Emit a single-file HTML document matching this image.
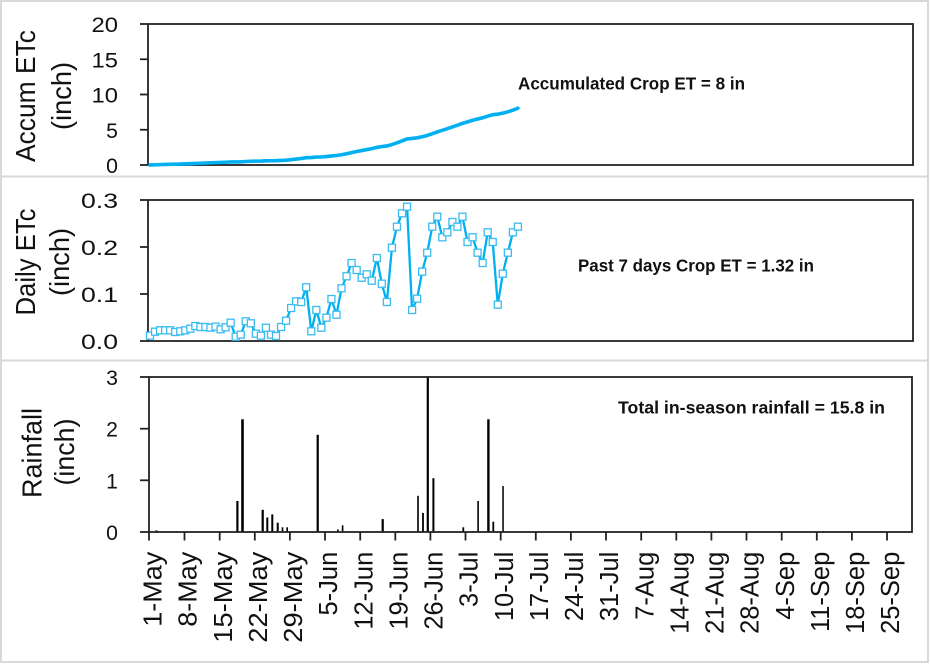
<!DOCTYPE html>
<html><head><meta charset="utf-8"><style>
html,body{margin:0;padding:0;background:#fff;}
svg{display:block;font-family:"Liberation Sans",sans-serif;}
</style></head><body>
<svg width="931" height="666" viewBox="0 0 931 666" xmlns="http://www.w3.org/2000/svg">
<rect width="931" height="666" fill="#fff"/>
<!-- panel borders -->
<g stroke="#D9D9D9" stroke-width="2" fill="none">
<line x1="0" y1="1" x2="929" y2="1"/>
<line x1="1" y1="0" x2="1" y2="663"/>
<line x1="928" y1="0" x2="928" y2="663"/>
<line x1="0" y1="662" x2="929" y2="662"/>
<line x1="0" y1="176.5" x2="929" y2="176.5"/>
<line x1="0" y1="360.5" x2="929" y2="360.5"/>
</g>

<!-- ===== TOP PANEL ===== -->
<g stroke="#222" stroke-width="1.8" fill="none">
<rect x="148" y="24" width="765" height="141"/>
<line x1="140" y1="24" x2="148" y2="24"/>
<line x1="140" y1="59.25" x2="148" y2="59.25"/>
<line x1="140" y1="94.5" x2="148" y2="94.5"/>
<line x1="140" y1="129.75" x2="148" y2="129.75"/>
<line x1="140" y1="165" x2="148" y2="165"/>
</g>
<g font-size="21" fill="#111" text-anchor="end">
<text x="118" y="32" textLength="26.5" lengthAdjust="spacingAndGlyphs">20</text>
<text x="118" y="67.25" textLength="26.5" lengthAdjust="spacingAndGlyphs">15</text>
<text x="118" y="102.5" textLength="26.5" lengthAdjust="spacingAndGlyphs">10</text>
<text x="118" y="137.75" textLength="11.8" lengthAdjust="spacingAndGlyphs">5</text>
<text x="118" y="173" textLength="11.8" lengthAdjust="spacingAndGlyphs">0</text>
</g>
<g font-size="28" fill="#111" text-anchor="middle">
<text transform="translate(35,96) rotate(-90)" textLength="132" lengthAdjust="spacingAndGlyphs">Accum ETc</text>
<text transform="translate(71,96) rotate(-90)" textLength="68" lengthAdjust="spacingAndGlyphs">(inch)</text>
</g>
<polyline fill="none" stroke="#00B0F0" stroke-width="3.6" stroke-linecap="round" stroke-linejoin="round" points="150,164.92 155.04,164.78 160.08,164.62 165.12,164.46 170.16,164.30 175.2,164.16 180.24,164.02 185.28,163.86 190.32,163.67 195.36,163.45 200.4,163.24 205.44,163.03 210.48,162.83 215.52,162.62 220.56,162.44 225.6,162.24 230.64,161.96 235.68,161.90 240.72,161.81 245.76,161.51 250.8,161.24 255.84,161.13 260.88,161.05 265.92,160.85 270.96,160.76 276,160.69 281.04,160.47 286.08,160.17 291.12,159.68 296.16,159.08 301.2,158.50 306.24,157.70 311.28,157.55 316.32,157.08 321.36,156.89 326.4,156.53 331.44,155.91 336.48,155.51 341.52,154.72 346.56,153.75 351.6,152.58 356.64,151.51 361.68,150.56 366.72,149.56 371.76,148.66 376.8,147.41 381.84,146.55 386.88,145.97 391.92,144.56 396.96,142.85 402,140.93 407.04,138.92 412.08,138.45 417.12,137.82 422.16,136.78 427.2,135.45 432.24,133.74 437.28,131.88 442.32,130.33 447.36,128.70 452.4,126.92 457.44,125.20 462.48,123.34 467.52,121.86 472.56,120.31 477.6,118.98 482.64,117.81 487.68,116.19 492.72,114.70 497.76,114.16 502.8,113.15 507.84,111.83 512.88,110.20 517.92,108.2"/>
<text x="518" y="89.5" font-size="17.5" font-weight="bold" fill="#111" textLength="227" lengthAdjust="spacingAndGlyphs">Accumulated Crop ET = 8 in</text>

<!-- ===== MIDDLE PANEL ===== -->
<g stroke="#222" stroke-width="1.8" fill="none">
<rect x="148" y="200" width="765" height="141"/>
<line x1="140" y1="200" x2="148" y2="200"/>
<line x1="140" y1="247" x2="148" y2="247"/>
<line x1="140" y1="294" x2="148" y2="294"/>
<line x1="140" y1="341" x2="148" y2="341"/>
</g>
<g font-size="21" fill="#111" text-anchor="end">
<text x="118" y="208" textLength="37" lengthAdjust="spacingAndGlyphs">0.3</text>
<text x="118" y="255" textLength="37" lengthAdjust="spacingAndGlyphs">0.2</text>
<text x="118" y="302" textLength="37" lengthAdjust="spacingAndGlyphs">0.1</text>
<text x="118" y="349" textLength="37" lengthAdjust="spacingAndGlyphs">0.0</text>
</g>
<g font-size="28" fill="#111" text-anchor="middle">
<text transform="translate(35,262) rotate(-90)" textLength="107" lengthAdjust="spacingAndGlyphs">Daily ETc</text>
<text transform="translate(69,262) rotate(-90)" textLength="68" lengthAdjust="spacingAndGlyphs">(inch)</text>
</g>
<polyline fill="none" stroke="#00B0F0" stroke-width="2.3" stroke-linejoin="round" points="150,335.7 155.04,331.7 160.08,330.3 165.12,330.3 170.16,330.3 175.2,332 180.24,331.3 185.28,330.3 190.32,328.7 195.36,326 200.4,327 205.44,327 210.48,327.7 215.52,326.7 220.56,329.3 225.6,327.3 230.64,322.7 235.68,336.7 240.72,334.7 245.76,321.3 250.8,323.3 255.84,333.7 260.88,335.7 265.92,327.7 270.96,334.7 276,336 281.04,327 286.08,320.7 291.12,308 296.16,301.3 301.2,302 306.24,287.3 311.28,331.3 316.32,310 321.36,327.7 326.4,317.7 331.44,299 336.48,314.7 341.52,288.3 346.56,276.3 351.6,263 356.64,270 361.68,277.7 366.72,274.3 371.76,280.7 376.8,258 381.84,283.7 386.88,302 391.92,247.7 396.96,226.7 402,213.3 407.04,206.7 412.08,310 417.12,298.7 422.16,271.7 427.2,252.7 432.24,226.7 437.28,216.7 442.32,237.3 447.36,232.3 452.4,222 457.44,226.7 462.48,216.7 467.52,242 472.56,237.3 477.6,252.7 482.64,263 487.68,232.3 492.72,242 497.76,304.7 502.8,273.7 507.84,252.7 512.88,232.3 517.92,226.7"/>
<g fill="#fff" stroke="#3ABCF0" stroke-width="1.3">
<rect x="146.5" y="332.2" width="7" height="7"/>
<rect x="151.54" y="328.2" width="7" height="7"/>
<rect x="156.58" y="326.8" width="7" height="7"/>
<rect x="161.62" y="326.8" width="7" height="7"/>
<rect x="166.66" y="326.8" width="7" height="7"/>
<rect x="171.7" y="328.5" width="7" height="7"/>
<rect x="176.74" y="327.8" width="7" height="7"/>
<rect x="181.78" y="326.8" width="7" height="7"/>
<rect x="186.82" y="325.2" width="7" height="7"/>
<rect x="191.86" y="322.5" width="7" height="7"/>
<rect x="196.9" y="323.5" width="7" height="7"/>
<rect x="201.94" y="323.5" width="7" height="7"/>
<rect x="206.98" y="324.2" width="7" height="7"/>
<rect x="212.02" y="323.2" width="7" height="7"/>
<rect x="217.06" y="325.8" width="7" height="7"/>
<rect x="222.1" y="323.8" width="7" height="7"/>
<rect x="227.14" y="319.2" width="7" height="7"/>
<rect x="232.18" y="333.2" width="7" height="7"/>
<rect x="237.22" y="331.2" width="7" height="7"/>
<rect x="242.26" y="317.8" width="7" height="7"/>
<rect x="247.3" y="319.8" width="7" height="7"/>
<rect x="252.34" y="330.2" width="7" height="7"/>
<rect x="257.38" y="332.2" width="7" height="7"/>
<rect x="262.42" y="324.2" width="7" height="7"/>
<rect x="267.46" y="331.2" width="7" height="7"/>
<rect x="272.5" y="332.5" width="7" height="7"/>
<rect x="277.54" y="323.5" width="7" height="7"/>
<rect x="282.58" y="317.2" width="7" height="7"/>
<rect x="287.62" y="304.5" width="7" height="7"/>
<rect x="292.66" y="297.8" width="7" height="7"/>
<rect x="297.7" y="298.5" width="7" height="7"/>
<rect x="302.74" y="283.8" width="7" height="7"/>
<rect x="307.78" y="327.8" width="7" height="7"/>
<rect x="312.82" y="306.5" width="7" height="7"/>
<rect x="317.86" y="324.2" width="7" height="7"/>
<rect x="322.9" y="314.2" width="7" height="7"/>
<rect x="327.94" y="295.5" width="7" height="7"/>
<rect x="332.98" y="311.2" width="7" height="7"/>
<rect x="338.02" y="284.8" width="7" height="7"/>
<rect x="343.06" y="272.8" width="7" height="7"/>
<rect x="348.1" y="259.5" width="7" height="7"/>
<rect x="353.14" y="266.5" width="7" height="7"/>
<rect x="358.18" y="274.2" width="7" height="7"/>
<rect x="363.22" y="270.8" width="7" height="7"/>
<rect x="368.26" y="277.2" width="7" height="7"/>
<rect x="373.3" y="254.5" width="7" height="7"/>
<rect x="378.34" y="280.2" width="7" height="7"/>
<rect x="383.38" y="298.5" width="7" height="7"/>
<rect x="388.42" y="244.2" width="7" height="7"/>
<rect x="393.46" y="223.2" width="7" height="7"/>
<rect x="398.5" y="209.8" width="7" height="7"/>
<rect x="403.54" y="203.2" width="7" height="7"/>
<rect x="408.58" y="306.5" width="7" height="7"/>
<rect x="413.62" y="295.2" width="7" height="7"/>
<rect x="418.66" y="268.2" width="7" height="7"/>
<rect x="423.7" y="249.2" width="7" height="7"/>
<rect x="428.74" y="223.2" width="7" height="7"/>
<rect x="433.78" y="213.2" width="7" height="7"/>
<rect x="438.82" y="233.8" width="7" height="7"/>
<rect x="443.86" y="228.8" width="7" height="7"/>
<rect x="448.9" y="218.5" width="7" height="7"/>
<rect x="453.94" y="223.2" width="7" height="7"/>
<rect x="458.98" y="213.2" width="7" height="7"/>
<rect x="464.02" y="238.5" width="7" height="7"/>
<rect x="469.06" y="233.8" width="7" height="7"/>
<rect x="474.1" y="249.2" width="7" height="7"/>
<rect x="479.14" y="259.5" width="7" height="7"/>
<rect x="484.18" y="228.8" width="7" height="7"/>
<rect x="489.22" y="238.5" width="7" height="7"/>
<rect x="494.26" y="301.2" width="7" height="7"/>
<rect x="499.3" y="270.2" width="7" height="7"/>
<rect x="504.34" y="249.2" width="7" height="7"/>
<rect x="509.38" y="228.8" width="7" height="7"/>
<rect x="514.42" y="223.2" width="7" height="7"/>
</g>
<text x="578" y="271.5" font-size="17.5" font-weight="bold" fill="#111" textLength="236" lengthAdjust="spacingAndGlyphs">Past 7 days Crop ET = 1.32 in</text>

<!-- ===== BOTTOM PANEL ===== -->
<g fill="#000">
<rect x="155.5" y="530.4" width="2" height="1.6"/>
<rect x="236.3" y="501" width="2.2" height="31"/>
<rect x="241.2" y="419.3" width="2.6" height="112.7"/>
<rect x="261.6" y="509.8" width="2.2" height="22.2"/>
<rect x="266.3" y="517.5" width="2" height="14.5"/>
<rect x="271.3" y="514.4" width="2" height="17.6"/>
<rect x="276.7" y="522.7" width="2" height="9.3"/>
<rect x="281.7" y="527.3" width="1.6" height="4.7"/>
<rect x="286.4" y="527.3" width="1.6" height="4.7"/>
<rect x="316.6" y="434.8" width="2.2" height="97.2"/>
<rect x="337.1" y="529.4" width="1.6" height="2.6"/>
<rect x="341.8" y="525.3" width="1.6" height="6.7"/>
<rect x="381.6" y="519.1" width="2.2" height="12.9"/>
<rect x="397.2" y="531" width="1.6" height="1"/>
<rect x="417.2" y="495.8" width="1.6" height="36.2"/>
<rect x="422.1" y="512.9" width="1.8" height="19.1"/>
<rect x="426.7" y="376.7" width="2.2" height="155.3"/>
<rect x="432.4" y="478.2" width="2" height="53.8"/>
<rect x="462.4" y="527.3" width="1.8" height="4.7"/>
<rect x="472.5" y="531" width="1.6" height="1"/>
<rect x="477.3" y="501" width="1.6" height="31"/>
<rect x="487.2" y="419.3" width="2.4" height="112.7"/>
<rect x="492.4" y="521.7" width="1.8" height="10.3"/>
<rect x="502.3" y="486" width="1.5" height="46"/>
</g>
<g stroke="#222" stroke-width="1.8" fill="none">
<rect x="149" y="377" width="763" height="155"/>
<line x1="140" y1="377" x2="149" y2="377"/>
<line x1="140" y1="428.7" x2="149" y2="428.7"/>
<line x1="140" y1="480.3" x2="149" y2="480.3"/>
<line x1="140" y1="532" x2="149" y2="532"/>
<line x1="149" y1="532" x2="149" y2="540.5"/>
<line x1="184.5" y1="532" x2="184.5" y2="540.5"/>
<line x1="219.7" y1="532" x2="219.7" y2="540.5"/>
<line x1="254.8" y1="532" x2="254.8" y2="540.5"/>
<line x1="289.9" y1="532" x2="289.9" y2="540.5"/>
<line x1="325" y1="532" x2="325" y2="540.5"/>
<line x1="360.2" y1="532" x2="360.2" y2="540.5"/>
<line x1="395.3" y1="532" x2="395.3" y2="540.5"/>
<line x1="430.4" y1="532" x2="430.4" y2="540.5"/>
<line x1="465.5" y1="532" x2="465.5" y2="540.5"/>
<line x1="500.7" y1="532" x2="500.7" y2="540.5"/>
<line x1="535.8" y1="532" x2="535.8" y2="540.5"/>
<line x1="570.9" y1="532" x2="570.9" y2="540.5"/>
<line x1="606" y1="532" x2="606" y2="540.5"/>
<line x1="641.2" y1="532" x2="641.2" y2="540.5"/>
<line x1="676.3" y1="532" x2="676.3" y2="540.5"/>
<line x1="711.4" y1="532" x2="711.4" y2="540.5"/>
<line x1="746.5" y1="532" x2="746.5" y2="540.5"/>
<line x1="781.7" y1="532" x2="781.7" y2="540.5"/>
<line x1="816.8" y1="532" x2="816.8" y2="540.5"/>
<line x1="851.9" y1="532" x2="851.9" y2="540.5"/>
<line x1="887" y1="532" x2="887" y2="540.5"/>
</g>
<g font-size="21" fill="#111" text-anchor="end">
<text x="118" y="385" textLength="11.8" lengthAdjust="spacingAndGlyphs">3</text>
<text x="118" y="436.7" textLength="11.8" lengthAdjust="spacingAndGlyphs">2</text>
<text x="118" y="488.3" textLength="11.8" lengthAdjust="spacingAndGlyphs">1</text>
<text x="118" y="540" textLength="11.8" lengthAdjust="spacingAndGlyphs">0</text>
</g>
<g font-size="28" fill="#111" text-anchor="middle">
<text transform="translate(41.5,453) rotate(-90)" textLength="90" lengthAdjust="spacingAndGlyphs">Rainfall</text>
<text transform="translate(74,452) rotate(-90)" textLength="67" lengthAdjust="spacingAndGlyphs">(inch)</text>
</g>
<text x="618" y="413.5" font-size="17.5" font-weight="bold" fill="#111" textLength="267" lengthAdjust="spacingAndGlyphs">Total in-season rainfall = 15.8 in</text>

<!-- date labels -->
<g font-size="25.5" fill="#111" text-anchor="end">
<text transform="translate(161.5,551.7) rotate(-90)" textLength="75" lengthAdjust="spacingAndGlyphs">1-May</text>
<text transform="translate(196.7,551.7) rotate(-90)" textLength="75" lengthAdjust="spacingAndGlyphs">8-May</text>
<text transform="translate(231.8,551.7) rotate(-90)" textLength="91" lengthAdjust="spacingAndGlyphs">15-May</text>
<text transform="translate(266.9,551.7) rotate(-90)" textLength="91" lengthAdjust="spacingAndGlyphs">22-May</text>
<text transform="translate(302,551.7) rotate(-90)" textLength="91" lengthAdjust="spacingAndGlyphs">29-May</text>
<text transform="translate(337.2,551.7) rotate(-90)">5-Jun</text>
<text transform="translate(372.3,551.7) rotate(-90)">12-Jun</text>
<text transform="translate(407.4,551.7) rotate(-90)">19-Jun</text>
<text transform="translate(442.5,551.7) rotate(-90)">26-Jun</text>
<text transform="translate(477.7,551.7) rotate(-90)">3-Jul</text>
<text transform="translate(512.8,551.7) rotate(-90)">10-Jul</text>
<text transform="translate(547.9,551.7) rotate(-90)">17-Jul</text>
<text transform="translate(583,551.7) rotate(-90)">24-Jul</text>
<text transform="translate(618.2,551.7) rotate(-90)">31-Jul</text>
<text transform="translate(653.3,551.7) rotate(-90)">7-Aug</text>
<text transform="translate(688.4,551.7) rotate(-90)">14-Aug</text>
<text transform="translate(723.5,551.7) rotate(-90)">21-Aug</text>
<text transform="translate(758.7,551.7) rotate(-90)">28-Aug</text>
<text transform="translate(793.8,551.7) rotate(-90)">4-Sep</text>
<text transform="translate(828.9,551.7) rotate(-90)">11-Sep</text>
<text transform="translate(864,551.7) rotate(-90)">18-Sep</text>
<text transform="translate(899.2,551.7) rotate(-90)">25-Sep</text>
</g>
</svg>
</body></html>
